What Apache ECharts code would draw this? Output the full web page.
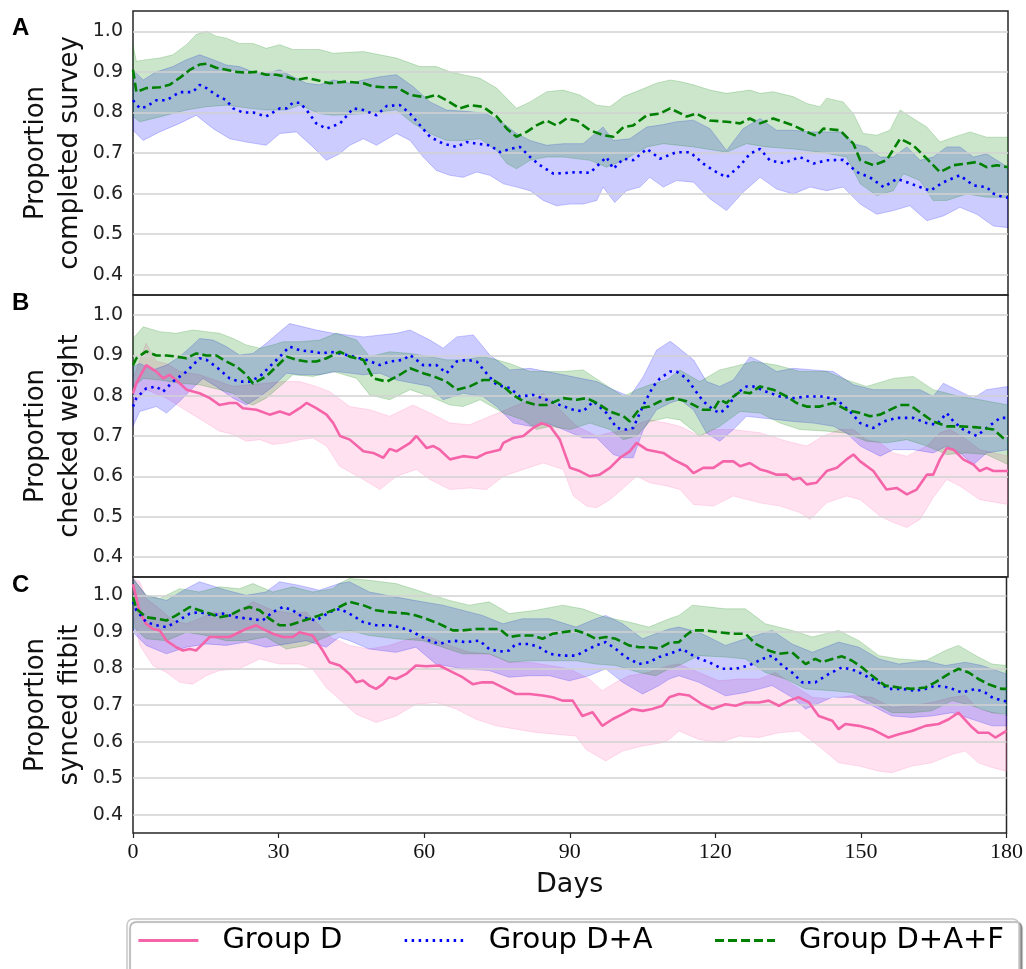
<!DOCTYPE html>
<html>
<head>
<meta charset="utf-8">
<script src="https://cdn.jsdelivr.net/npm/echarts@6/dist/echarts.min.js"></script>
<style>html,body{margin:0;padding:0;background:#fff}#c{width:1026px;height:969px}</style>
</head>
<body>
<div id="c"></div>
<script>
// ---------- DATA ----------
const groups = ['Group D', 'Group D+A', 'Group D+A+F'];
const panelLetters = ['A', 'B', 'C'];
const yNames = ['Proportion\ncompleted survey', 'Proportion\nchecked weight', 'Proportion\nsynced fitbit'];
const yTickValues = [0.4, 0.5, 0.6, 0.7, 0.8, 0.9, 1.0];
const xTickInterval = 30;

// Panel A
const A_DA = [[0,0.83],[1.4,0.81],[2.7,0.814],[4.8,0.83],[6.9,0.83],[9.6,0.85],[12.3,0.85],[13.7,0.868],[15.1,0.86],[17.1,0.843],[19.2,0.83],[20.6,0.81],[22.6,0.80],[24.7,0.80],[27.4,0.79],[30.2,0.81],[31.6,0.81],[32.9,0.824],[34.3,0.824],[35.7,0.806],[37.7,0.773],[39.8,0.76],[42.6,0.773],[45.3,0.81],[47.4,0.806],[50.1,0.793],[52.2,0.816],[54.9,0.818],[57,0.797],[59,0.769],[61.1,0.74],[63.8,0.723],[66.6,0.715],[68.6,0.727],[70.7,0.723],[73.4,0.719],[75.5,0.702],[77.5,0.71],[79.6,0.715],[81.7,0.69],[83.7,0.67],[86.5,0.649],[89.2,0.651],[91.3,0.653],[94,0.651],[96,0.674],[97.4,0.69],[98.8,0.661],[100.9,0.686],[102.9,0.682],[105.7,0.71],[108.4,0.686],[111.8,0.702],[114.6,0.702],[117.3,0.674],[119.4,0.657],[122.1,0.64],[124.9,0.669],[126.9,0.698],[129,0.71],[131,0.682],[133.8,0.675],[137.2,0.69],[140,0.674],[142.7,0.682],[146.1,0.683],[148.9,0.653],[151.6,0.64],[154.4,0.616],[157.1,0.636],[159.2,0.628],[161.9,0.616],[164,0.607],[166.7,0.628],[170.1,0.645],[172.9,0.62],[175.6,0.616],[177,0.6],[179,0.591],[180,0.59]];
const A_DA_hi = [[0,0.905],[2.1,0.88],[4.8,0.90],[8.2,0.913],[11,0.93],[13.7,0.942],[16.5,0.93],[19.2,0.917],[21.9,0.913],[24.7,0.90],[27.4,0.897],[30.2,0.905],[32.9,0.888],[35.7,0.872],[38.4,0.868],[41.2,0.88],[44.6,0.872],[47.4,0.88],[50.8,0.888],[54.2,0.893],[57.6,0.864],[61.1,0.826],[64.5,0.806],[69.3,0.802],[72.7,0.797],[76.2,0.773],[78.9,0.748],[81.7,0.731],[85.1,0.719],[88.5,0.723],[92.6,0.723],[96.7,0.764],[98.8,0.731],[102.2,0.735],[105.7,0.764],[109.1,0.77],[111.8,0.777],[115.3,0.781],[118.7,0.76],[122.1,0.706],[125.5,0.76],[129,0.785],[132.4,0.756],[135.8,0.756],[139.3,0.752],[142.7,0.752],[146.1,0.752],[148.2,0.723],[150.9,0.715],[153.7,0.69],[156.4,0.69],[159.2,0.715],[161.9,0.682],[164.6,0.69],[167.4,0.715],[170.1,0.715],[172.9,0.69],[175.6,0.698],[180,0.665]];
const A_DA_lo = [[0,0.756],[2.1,0.731],[5.5,0.752],[9.6,0.773],[13,0.793],[16.5,0.76],[19.9,0.735],[23.3,0.727],[27.4,0.719],[30.2,0.748],[33.6,0.752],[37,0.715],[39.8,0.682],[42.5,0.698],[44.6,0.719],[47.4,0.735],[50.1,0.719],[54.2,0.748],[57,0.731],[59.7,0.69],[62.4,0.657],[65.2,0.645],[67.9,0.64],[70.7,0.653],[73.4,0.645],[76.2,0.624],[78.9,0.616],[81.7,0.607],[84.4,0.583],[87.1,0.57],[89.9,0.574],[92.6,0.574],[95.4,0.583],[96.7,0.616],[99.1,0.578],[101.5,0.607],[104.3,0.616],[106.3,0.64],[109.1,0.616],[111.8,0.632],[115.3,0.628],[118.7,0.587],[122.1,0.558],[125.5,0.603],[129,0.64],[132.4,0.611],[135.8,0.599],[139.3,0.616],[142.7,0.607],[146.1,0.616],[149.6,0.574],[153,0.549],[156.4,0.558],[159.8,0.57],[163.3,0.533],[166.7,0.545],[170.1,0.566],[173.6,0.549],[177,0.52],[180,0.516]];
const A_DAF = [[0,0.905],[0.7,0.85],[2.7,0.86],[5.5,0.862],[7.5,0.868],[9.6,0.885],[11.7,0.905],[13.7,0.918],[15.1,0.92],[17.1,0.91],[19.2,0.905],[21.3,0.90],[23.3,0.898],[25.4,0.90],[27.4,0.893],[29.5,0.893],[31.6,0.888],[33.6,0.88],[35.7,0.885],[37.7,0.88],[40.5,0.872],[43.9,0.876],[47.4,0.872],[49.4,0.864],[51.5,0.862],[54.2,0.862],[57,0.843],[60.4,0.837],[62.4,0.843],[64.5,0.83],[67.2,0.81],[69.3,0.818],[72,0.814],[74.8,0.79],[76.9,0.76],[78.9,0.74],[81,0.752],[83,0.768],[85.1,0.78],[87.1,0.768],[89.2,0.785],[91.3,0.78],[94,0.756],[96.7,0.744],[98.8,0.74],[100.9,0.764],[102.9,0.768],[105.7,0.793],[108.4,0.797],[110.5,0.81],[113.9,0.79],[115.9,0.797],[118.7,0.78],[122.1,0.777],[124.9,0.773],[126.9,0.785],[129,0.773],[131.7,0.785],[135.8,0.768],[138.6,0.752],[140.6,0.742],[142,0.76],[145.4,0.756],[148.2,0.723],[149.6,0.682],[152.3,0.67],[155,0.682],[157.8,0.735],[160.5,0.719],[163.3,0.686],[166,0.653],[168.8,0.67],[171.5,0.674],[173.6,0.678],[175.6,0.665],[177.7,0.67],[180,0.665]];
const A_DAF_hi = [[0,0.967],[0.7,0.926],[2.7,0.93],[5.5,0.934],[8.2,0.942],[11,0.967],[13,0.992],[15.1,1.0],[17.1,0.988],[19.2,0.983],[21.9,0.97],[24.7,0.97],[27.4,0.958],[30.2,0.967],[32.9,0.955],[35.7,0.955],[38.4,0.955],[41.2,0.946],[47.4,0.95],[54.2,0.934],[59,0.913],[62.4,0.913],[65.2,0.90],[67.9,0.893],[71.4,0.884],[74.8,0.86],[78.9,0.81],[81.7,0.826],[85.1,0.851],[88.5,0.855],[91.9,0.843],[95.4,0.818],[98.1,0.814],[100.9,0.839],[104.3,0.855],[107.7,0.872],[110.5,0.88],[112.5,0.876],[115.3,0.868],[118.7,0.855],[122.1,0.847],[126.9,0.855],[129,0.847],[131.7,0.851],[135.8,0.839],[138.6,0.822],[141.3,0.814],[142.7,0.835],[146.1,0.826],[148.2,0.797],[150.2,0.748],[153,0.744],[155.7,0.756],[157.8,0.806],[160.5,0.785],[163.3,0.764],[166,0.727],[168.8,0.739],[172.2,0.752],[175.6,0.739],[180,0.739]];
const A_DAF_lo = [[0,0.79],[1.4,0.777],[5.5,0.789],[11,0.806],[15.1,0.814],[19.2,0.818],[24,0.81],[27.4,0.806],[31.6,0.806],[34.3,0.818],[38.4,0.797],[41.2,0.793],[47.4,0.797],[54.2,0.806],[57.6,0.773],[61.1,0.748],[64.5,0.731],[67.9,0.731],[71.4,0.735],[74.8,0.706],[76.9,0.674],[78.9,0.661],[81.7,0.682],[85.1,0.69],[88.5,0.69],[94,0.682],[97.4,0.665],[100.9,0.682],[105.7,0.715],[109.1,0.723],[115.3,0.715],[122.1,0.702],[126.2,0.723],[130.3,0.715],[135.8,0.71],[141.3,0.702],[146.8,0.69],[149.6,0.624],[153,0.595],[156.4,0.607],[158.5,0.649],[161.9,0.632],[164.6,0.583],[167.4,0.583],[171.5,0.599],[175.6,0.591],[180,0.591]];

// Panel B
const B_D = [[0,0.806],[0.7,0.831],[2.7,0.876],[4.8,0.86],[6.2,0.843],[7.5,0.852],[9.6,0.831],[11,0.815],[13.7,0.806],[15.8,0.794],[17.8,0.777],[19.9,0.782],[21.3,0.782],[22.6,0.769],[25.4,0.765],[28.1,0.753],[30.2,0.761],[32.2,0.753],[34.3,0.769],[35.7,0.782],[37.7,0.769],[39.8,0.753],[41.2,0.732],[42.6,0.70],[44.6,0.691],[47.4,0.662],[49.4,0.658],[51.5,0.646],[52.8,0.668],[54.2,0.662],[57,0.683],[58.3,0.70],[60.4,0.67],[61.8,0.675],[63.1,0.666],[65.2,0.642],[67.9,0.65],[70.7,0.646],[72.7,0.658],[75.5,0.666],[76.2,0.683],[78.2,0.695],[80.3,0.70],[82.3,0.72],[84.1,0.732],[85.8,0.724],[87.8,0.691],[89.9,0.621],[91.9,0.613],[94,0.60],[96,0.604],[98.1,0.621],[100.2,0.646],[102.2,0.662],[103.6,0.683],[105.7,0.666],[109.1,0.658],[111.1,0.642],[113.9,0.625],[115.3,0.608],[117.3,0.621],[119.4,0.621],[121.4,0.637],[123.5,0.637],[124.9,0.625],[126.9,0.633],[129,0.617],[130.3,0.613],[132.4,0.604],[134.5,0.604],[135.8,0.592],[137.2,0.596],[138.6,0.58],[140.6,0.584],[142.7,0.613],[144.8,0.621],[146.8,0.642],[148.2,0.654],[149.6,0.637],[152.3,0.613],[155,0.567],[157.1,0.571],[159.2,0.555],[161.2,0.567],[163.3,0.604],[164.6,0.604],[166,0.642],[167.4,0.67],[168.8,0.666],[170.8,0.642],[172.9,0.629],[174.2,0.613],[175.6,0.621],[177,0.613],[180,0.613]];
const B_D_hi = [[0,0.84],[1.4,0.889],[2.7,0.93],[4.8,0.885],[6.9,0.88],[9.6,0.86],[13.7,0.852],[20.6,0.823],[27.4,0.831],[30.9,0.835],[34.3,0.835],[37.7,0.823],[40.5,0.81],[44.6,0.773],[48.7,0.765],[52.8,0.749],[57.6,0.777],[61.1,0.757],[65.2,0.732],[69.3,0.728],[73.4,0.749],[77.5,0.769],[81.7,0.79],[84.4,0.806],[88.5,0.757],[91.3,0.724],[95.4,0.70],[98.1,0.708],[102.2,0.716],[104.3,0.732],[106.3,0.74],[109.8,0.732],[112.5,0.724],[116.6,0.70],[119.4,0.716],[123.5,0.716],[129,0.708],[134.5,0.687],[138.6,0.675],[142,0.70],[145.4,0.716],[148.2,0.716],[150.9,0.691],[153.7,0.683],[156.4,0.658],[159.2,0.65],[163.3,0.675],[166,0.708],[168.1,0.716],[171.5,0.691],[174.2,0.666],[180,0.65]];
const B_D_lo = [[0,0.78],[2.7,0.815],[6.9,0.794],[9.6,0.773],[12.3,0.753],[15.1,0.732],[17.8,0.712],[20.6,0.704],[23.3,0.687],[26.1,0.691],[28.8,0.679],[31.6,0.683],[34.3,0.691],[37,0.695],[39.8,0.675],[42.5,0.625],[47.4,0.592],[50.8,0.567],[54.2,0.60],[58.3,0.617],[61.1,0.592],[65.2,0.567],[69.3,0.571],[72.7,0.567],[76.2,0.60],[80.3,0.617],[84.4,0.633],[88.5,0.617],[90.6,0.551],[93.3,0.526],[95.4,0.522],[98.1,0.542],[100.9,0.571],[103.6,0.60],[106.3,0.584],[109.8,0.576],[112.5,0.567],[115.3,0.53],[119.4,0.526],[123.5,0.551],[129,0.534],[133.1,0.526],[137.2,0.51],[139.3,0.493],[142.7,0.534],[146.8,0.551],[149.6,0.542],[153.7,0.501],[156.4,0.485],[159.2,0.473],[161.9,0.493],[164.6,0.547],[167.4,0.592],[170.1,0.576],[174.2,0.542],[180,0.53]];
const B_DA = [[0,0.773],[0.7,0.794],[2.7,0.818],[4.8,0.823],[6.2,0.81],[8.2,0.835],[11,0.86],[13.7,0.893],[15.1,0.889],[17.1,0.872],[19.9,0.843],[21.9,0.835],[24,0.835],[26.1,0.848],[28.1,0.872],[30.2,0.897],[32.2,0.922],[34.3,0.913],[37,0.909],[39.1,0.905],[40.5,0.909],[42.6,0.905],[45.3,0.897],[48,0.889],[50.8,0.876],[52.8,0.885],[55.6,0.889],[57,0.901],[59.7,0.876],[62.4,0.876],[64.5,0.856],[66.6,0.885],[68.6,0.889],[70.7,0.885],[72.7,0.856],[74.8,0.827],[77.5,0.819],[79.6,0.798],[82.3,0.802],[85.1,0.79],[87.8,0.777],[90.6,0.765],[92.6,0.761],[94.7,0.786],[97.4,0.757],[99.5,0.72],[101.5,0.716],[102.9,0.72],[105,0.777],[107,0.823],[108.4,0.843],[110.5,0.86],[111.8,0.86],[113.9,0.843],[115.3,0.819],[117.3,0.786],[119.4,0.765],[120.7,0.757],[122.1,0.769],[124.2,0.806],[126.2,0.823],[127.6,0.823],[130.3,0.81],[133.1,0.798],[135.8,0.794],[138.6,0.798],[142,0.798],[144.8,0.79],[147.5,0.761],[149.6,0.732],[152.3,0.72],[154.4,0.736],[157.1,0.745],[160.5,0.745],[163.3,0.732],[165.3,0.728],[167.4,0.757],[168.8,0.736],[170.8,0.716],[173.6,0.70],[175.6,0.72],[178.4,0.745],[180,0.745]];
const B_DA_hi = [[0,0.872],[1.4,0.88],[4.1,0.864],[6.9,0.876],[9.6,0.897],[12.3,0.926],[13.7,0.942],[16.5,0.938],[19.2,0.922],[21.9,0.901],[24.7,0.905],[27.4,0.93],[30.2,0.959],[32.2,0.979],[35,0.971],[37.7,0.963],[41.2,0.955],[47.4,0.946],[54.2,0.955],[57,0.963],[61.1,0.938],[63.8,0.918],[66.6,0.946],[70,0.951],[73.4,0.901],[77.5,0.864],[81.7,0.868],[88.5,0.852],[95.4,0.835],[98.8,0.815],[102.2,0.798],[105,0.848],[107.7,0.913],[110.5,0.935],[111.1,0.93],[115.3,0.889],[118,0.835],[120.7,0.823],[123.5,0.839],[126.9,0.897],[129,0.885],[132.4,0.86],[135.8,0.868],[140,0.864],[144.1,0.86],[148.2,0.827],[152.3,0.815],[156.4,0.815],[161.9,0.815],[164.6,0.798],[166.7,0.831],[169.4,0.815],[172.9,0.794],[175.6,0.815],[180,0.823]];
const B_DA_lo = [[0,0.724],[1.4,0.761],[4.8,0.773],[6.9,0.757],[9.6,0.786],[12.3,0.819],[14.4,0.843],[17.1,0.823],[20.6,0.794],[23.3,0.777],[26.1,0.798],[28.8,0.823],[31.6,0.856],[34.3,0.852],[38.4,0.852],[41.8,0.86],[47.4,0.852],[50.8,0.856],[54.2,0.839],[61.1,0.823],[63.8,0.79],[67.9,0.806],[72,0.798],[74.8,0.773],[78.2,0.732],[81.7,0.724],[85.1,0.732],[88.5,0.716],[92.6,0.695],[95.4,0.695],[98.8,0.654],[100.9,0.646],[102.9,0.646],[105,0.716],[107.7,0.765],[110.5,0.782],[112.5,0.79],[115.3,0.765],[118,0.707],[120.7,0.687],[123.5,0.716],[126.2,0.749],[129,0.745],[133.1,0.74],[135.8,0.736],[140,0.732],[144.1,0.724],[146.8,0.707],[149.6,0.675],[153.7,0.65],[156.4,0.666],[160.5,0.666],[164.6,0.658],[167.4,0.675],[170.1,0.658],[172.9,0.629],[175.6,0.658],[180,0.666]];
const B_DAF = [[0,0.876],[0.7,0.893],[2.7,0.91],[4.8,0.90],[6.9,0.90],[8.9,0.897],[11,0.893],[13,0.905],[15.1,0.90],[17.1,0.90],[19.2,0.885],[21.3,0.872],[23.3,0.852],[24.7,0.83],[27.4,0.848],[29.5,0.872],[31.6,0.897],[33.6,0.889],[35.7,0.885],[37.7,0.885],[39.8,0.893],[41.8,0.905],[42.6,0.909],[44.6,0.897],[47.4,0.889],[49.4,0.843],[52.2,0.835],[54.9,0.852],[57,0.868],[59.7,0.856],[61.8,0.848],[64.5,0.835],[66.6,0.815],[69.3,0.823],[72,0.839],[74.1,0.839],[76.2,0.823],[78.2,0.802],[80.3,0.786],[83,0.777],[85.1,0.777],[88.5,0.794],[91.3,0.79],[93.3,0.794],[95.4,0.782],[98.1,0.761],[100.9,0.749],[102.2,0.736],[104.3,0.769],[106.3,0.773],[108.4,0.786],[111.1,0.794],[113.9,0.786],[116,0.773],[117.3,0.765],[119.4,0.765],[120.7,0.79],[122.1,0.782],[123.5,0.798],[124.9,0.81],[126.9,0.806],[129,0.823],[131.7,0.815],[134.5,0.798],[136.5,0.782],[138.6,0.773],[141.3,0.773],[144.1,0.782],[146.8,0.765],[149.6,0.757],[151.6,0.749],[153.7,0.753],[155.7,0.765],[157.8,0.777],[159.8,0.777],[162.6,0.753],[164.6,0.736],[167.4,0.724],[170.1,0.724],[172.9,0.722],[174.9,0.72],[177,0.716],[179,0.695],[180,0.69]];
const B_DAF_hi = [[0,0.942],[2.1,0.971],[5.5,0.959],[8.9,0.955],[12.3,0.963],[15.1,0.959],[17.8,0.955],[20.6,0.942],[23.3,0.926],[26.1,0.918],[28.8,0.926],[30.9,0.934],[34.3,0.934],[38.4,0.938],[41.8,0.955],[46,0.938],[48.7,0.897],[52.8,0.909],[57,0.905],[61.1,0.897],[64.5,0.889],[67.9,0.889],[72,0.897],[74.8,0.889],[77.5,0.88],[81.7,0.86],[88.5,0.86],[92.6,0.864],[96.7,0.831],[100.9,0.798],[103.6,0.815],[106.3,0.827],[109.8,0.839],[112.5,0.864],[116.6,0.835],[120.7,0.864],[123.5,0.872],[127.6,0.885],[132.4,0.876],[137.2,0.86],[142.7,0.86],[146.8,0.839],[150.9,0.823],[156.4,0.843],[160.5,0.848],[164.6,0.815],[170.1,0.798],[174.2,0.79],[180,0.777]];
const B_DAF_lo = [[0,0.82],[2.1,0.843],[5.5,0.839],[9.6,0.831],[13.7,0.827],[17.8,0.815],[20.6,0.806],[23.3,0.782],[24.7,0.777],[27.4,0.794],[30.2,0.823],[32.9,0.852],[37,0.848],[41.2,0.86],[46,0.843],[48.7,0.802],[52.8,0.79],[57,0.815],[61.1,0.798],[65.2,0.777],[67.9,0.773],[71.4,0.79],[76.2,0.757],[80.3,0.74],[83,0.716],[85.8,0.724],[89.9,0.716],[94,0.732],[98.1,0.716],[100.9,0.691],[103.6,0.70],[106.3,0.736],[109.8,0.745],[112.5,0.74],[116.6,0.70],[120.7,0.724],[124.9,0.761],[129,0.757],[133.1,0.732],[137.2,0.716],[142.7,0.712],[146.8,0.707],[150.9,0.687],[155,0.683],[159.2,0.691],[163.3,0.675],[167.4,0.654],[171.5,0.658],[175.6,0.654],[180,0.629]];

// Panel C
const C_D = [[0,1.03],[1.4,0.954],[2.7,0.922],[4.1,0.908],[5.5,0.904],[6.9,0.876],[8.9,0.858],[10.3,0.849],[11.7,0.853],[13,0.849],[14.4,0.867],[15.8,0.886],[17.8,0.886],[19.9,0.886],[21.9,0.899],[23.3,0.908],[25.4,0.918],[26.7,0.908],[28.8,0.895],[30.9,0.886],[32.9,0.886],[34.3,0.899],[37,0.89],[39.1,0.849],[40.5,0.817],[42.6,0.808],[44.6,0.785],[46,0.762],[47.4,0.767],[48.7,0.753],[50.1,0.744],[51.5,0.757],[52.8,0.776],[54.2,0.771],[56.3,0.785],[58.3,0.808],[60.4,0.806],[63.1,0.808],[65.2,0.794],[67.9,0.776],[70,0.757],[72,0.762],[74.1,0.762],[76.2,0.748],[78.9,0.73],[81.7,0.73],[84.4,0.726],[86.5,0.721],[88.5,0.712],[90.6,0.712],[92.6,0.67],[94.7,0.68],[96.7,0.643],[98.8,0.661],[100.9,0.675],[102.9,0.689],[105,0.684],[107,0.689],[109.1,0.698],[110.5,0.721],[112.5,0.73],[114.6,0.726],[117.3,0.702],[119.4,0.689],[122.1,0.702],[124.2,0.698],[126.2,0.707],[129,0.707],[131,0.712],[133.1,0.698],[135.2,0.712],[137.2,0.721],[139.3,0.707],[141.3,0.67],[144.1,0.657],[145.4,0.634],[146.8,0.648],[149.6,0.643],[152.3,0.634],[155.7,0.611],[157.8,0.62],[160.5,0.629],[163.3,0.643],[166,0.648],[168.1,0.661],[170.1,0.679],[172.9,0.639],[174.2,0.624],[176.3,0.624],[177.7,0.611],[180,0.629]];
const C_D_hi = [[0,1.046],[1.4,1.037],[2.7,0.991],[5.5,0.963],[8.2,0.931],[11,0.922],[13.7,0.936],[16.5,0.954],[20.6,0.945],[24.7,0.982],[28.8,0.959],[32.9,0.95],[35.7,0.954],[38.4,0.918],[41.2,0.881],[42.5,0.876],[44.6,0.863],[48.7,0.853],[52.8,0.863],[57,0.881],[61.1,0.886],[65.2,0.863],[69.3,0.844],[73.4,0.84],[77.5,0.817],[81.7,0.817],[85.8,0.808],[89.9,0.799],[94,0.771],[96.7,0.739],[99.5,0.762],[102.2,0.78],[106.3,0.789],[110.5,0.808],[112.5,0.812],[116.6,0.789],[120.7,0.766],[124.9,0.771],[129,0.771],[132.4,0.789],[135.8,0.757],[140,0.721],[144.1,0.716],[148.2,0.726],[152.3,0.721],[156.4,0.693],[160.5,0.698],[164.6,0.707],[168.8,0.721],[171.5,0.726],[174.2,0.689],[180,0.67]];
const C_D_lo = [[0,0.945],[1.4,0.863],[4.1,0.808],[6.9,0.789],[9.6,0.762],[12.3,0.757],[15.1,0.78],[17.8,0.794],[21.9,0.799],[26.1,0.826],[30.2,0.812],[34.3,0.812],[37,0.799],[39.8,0.748],[42.5,0.716],[46,0.675],[50.1,0.652],[54.2,0.67],[58.3,0.702],[62.4,0.707],[66.6,0.689],[70.7,0.661],[74.8,0.643],[78.9,0.634],[83,0.625],[87.1,0.62],[91.3,0.615],[93.3,0.579],[97.4,0.547],[100.9,0.574],[105,0.588],[109.1,0.597],[110.5,0.606],[112.5,0.629],[116.6,0.606],[120.7,0.597],[124.9,0.615],[129,0.611],[133.1,0.624],[137.2,0.629],[141.3,0.588],[145.4,0.542],[149.6,0.533],[153.7,0.519],[156.4,0.515],[160.5,0.533],[164.6,0.542],[168.8,0.565],[171.5,0.574],[174.2,0.542],[177,0.529],[180,0.519]];
const C_DA = [[0,0.982],[0.7,0.959],[2.7,0.927],[4.8,0.918],[6.9,0.913],[8.9,0.927],[11.7,0.95],[13.7,0.954],[16.5,0.945],[18.5,0.95],[21.3,0.94],[24,0.936],[26.7,0.931],[28.8,0.954],[30.9,0.968],[32.9,0.959],[35,0.94],[37.7,0.931],[40.5,0.954],[42.6,0.963],[44.6,0.95],[47.4,0.927],[50.1,0.918],[52.8,0.918],[54.9,0.913],[57,0.904],[59,0.89],[61.1,0.876],[63.1,0.867],[65.9,0.876],[68.6,0.872],[71.4,0.876],[73.4,0.853],[75.5,0.846],[77.5,0.849],[78.9,0.867],[81.7,0.867],[83.7,0.858],[85.8,0.84],[88.5,0.835],[91.3,0.835],[93.3,0.849],[95.4,0.863],[97.4,0.872],[99.5,0.853],[101.5,0.831],[104.3,0.812],[106.3,0.817],[108.4,0.831],[110.5,0.84],[113.2,0.853],[115.9,0.831],[118.7,0.817],[121.4,0.799],[124.2,0.799],[126.9,0.808],[129.7,0.826],[131.7,0.835],[133.8,0.808],[135.8,0.789],[137.9,0.762],[140.6,0.762],[143.4,0.785],[146.1,0.803],[148.9,0.794],[150.9,0.78],[153,0.766],[155.7,0.744],[158.5,0.744],[161.2,0.739],[163.3,0.744],[165.3,0.753],[168.1,0.748],[170.8,0.734],[173.6,0.744],[175.6,0.734],[177,0.721],[179,0.712],[180,0.71]];
const C_DA_hi = [[0,1.046],[2.7,1.0],[6.9,0.986],[11,1.018],[13.7,1.037],[19.2,1.014],[23.3,1.0],[27.4,1.009],[30.2,1.037],[34.3,1.027],[38.4,1.014],[42.5,1.032],[44.6,1.037],[48.7,1.009],[54.2,0.995],[59.7,0.982],[63.8,0.973],[67.9,0.959],[72,0.945],[76.2,0.922],[80.3,0.936],[85.8,0.936],[91.3,0.913],[95.4,0.936],[97.4,0.945],[100.9,0.922],[105,0.881],[107.7,0.895],[110.5,0.908],[112.5,0.913],[116.6,0.899],[122.1,0.863],[126.2,0.881],[131.7,0.904],[135.8,0.867],[140,0.844],[145.4,0.872],[149.6,0.858],[153.7,0.826],[157.8,0.812],[163.3,0.821],[167.4,0.808],[171.5,0.817],[174.9,0.808],[180,0.785]];
const C_DA_lo = [[0,0.899],[2.7,0.863],[6.9,0.84],[11,0.858],[15.1,0.867],[19.2,0.863],[23.3,0.872],[27.4,0.858],[31.6,0.867],[35.7,0.876],[39.8,0.858],[42.5,0.885],[44.6,0.876],[48.7,0.853],[54.2,0.844],[58.3,0.858],[62.4,0.812],[67.9,0.799],[73.4,0.794],[77.5,0.776],[81.7,0.78],[85.8,0.78],[89.9,0.766],[94,0.78],[97.4,0.799],[100.9,0.762],[105,0.73],[108.4,0.753],[110.5,0.771],[112.5,0.78],[116.6,0.762],[122.1,0.725],[126.2,0.734],[131.7,0.753],[135.8,0.721],[138.6,0.689],[144.1,0.721],[148.2,0.721],[152.3,0.698],[156.4,0.67],[160.5,0.666],[164.6,0.67],[168.8,0.679],[172.9,0.661],[177,0.643],[180,0.643]];
const C_DAF = [[0,0.995],[0.7,0.963],[2.7,0.94],[4.8,0.936],[6.9,0.931],[8.9,0.945],[11.7,0.968],[13.7,0.959],[15.8,0.95],[17.8,0.94],[19.9,0.945],[21.9,0.959],[24,0.968],[26.1,0.959],[28.1,0.936],[30.2,0.918],[32.2,0.918],[34.3,0.927],[36.4,0.936],[38.4,0.945],[41.2,0.959],[42.5,0.968],[44.6,0.982],[47.4,0.973],[50.1,0.959],[52.8,0.954],[56.3,0.95],[58.3,0.945],[60.4,0.936],[63.1,0.922],[65.9,0.904],[67.9,0.904],[70.7,0.908],[73.4,0.908],[75.5,0.908],[77.5,0.886],[79.6,0.89],[82.3,0.89],[84.4,0.881],[86.5,0.895],[88.5,0.899],[91.3,0.904],[93.3,0.895],[95.4,0.881],[97.4,0.886],[99.5,0.881],[102.2,0.863],[104.3,0.858],[106.3,0.858],[108.4,0.855],[110.5,0.87],[112.5,0.872],[113.9,0.89],[115.3,0.904],[118,0.904],[120.7,0.899],[123.5,0.895],[126.2,0.895],[128.3,0.867],[131,0.849],[133.1,0.84],[135.8,0.844],[138.6,0.812],[140.6,0.826],[142,0.817],[144.1,0.826],[146.1,0.833],[148.2,0.821],[150.2,0.803],[152.3,0.78],[155,0.753],[157.8,0.748],[160.5,0.744],[163.3,0.748],[165.3,0.762],[168.1,0.785],[170.1,0.799],[172.2,0.789],[174.2,0.771],[176.3,0.757],[179,0.744],[180,0.744]];
const C_DAF_hi = [[0,1.046],[2.7,1.0],[5.5,0.991],[9.6,1.018],[13.7,1.009],[17.8,1.023],[21.9,1.018],[24.7,1.032],[28.8,1.009],[32.9,1.023],[37,1.009],[41.2,1.018],[42.5,1.032],[44.6,1.046],[48.7,1.041],[54.2,1.032],[59.7,1.009],[65.2,0.986],[69.3,0.973],[73.4,0.982],[77.5,0.95],[83,0.959],[88.5,0.973],[92.6,0.963],[97.4,0.94],[102.2,0.927],[106.3,0.913],[110.5,0.936],[112.5,0.945],[115.3,0.973],[122.1,0.963],[126.2,0.963],[130.3,0.922],[135.8,0.904],[140,0.886],[145.4,0.904],[149.6,0.876],[153.7,0.835],[157.8,0.826],[163.3,0.821],[167.4,0.849],[170.1,0.863],[174.2,0.831],[177,0.812],[180,0.808]];
const C_DAF_lo = [[0,0.913],[2.7,0.881],[6.9,0.876],[11,0.899],[15.1,0.89],[19.2,0.876],[23.3,0.876],[27.4,0.886],[31.6,0.853],[35.7,0.863],[39.8,0.886],[42.5,0.899],[44.6,0.904],[48.7,0.89],[54.2,0.881],[59.7,0.876],[63.8,0.858],[67.9,0.84],[73.4,0.84],[77.5,0.817],[81.7,0.821],[87.1,0.821],[91.3,0.821],[95.4,0.812],[99.5,0.808],[104.3,0.789],[107.7,0.78],[110.5,0.799],[112.5,0.808],[116.6,0.835],[122.1,0.831],[126.2,0.826],[130.3,0.789],[134.5,0.771],[138.6,0.744],[144.1,0.739],[148.2,0.734],[152.3,0.707],[156.4,0.679],[160.5,0.679],[164.6,0.684],[168.8,0.712],[172.9,0.698],[177,0.679],[180,0.675]];

// ---------- STYLE ----------
const lineColors = ['#f564a9', '#0000ff', '#008000'];
const bandColors = ['rgba(255,105,180,0.2)', 'rgba(0,0,255,0.2)', 'rgba(0,128,0,0.2)'];
const lineTypes = ['solid', [2.5, 4.5], [9, 4]];

const panels = [
  { grid: { top: 11, height: 284 }, series: [null, {m: A_DA, hi: A_DA_hi, lo: A_DA_lo}, {m: A_DAF, hi: A_DAF_hi, lo: A_DAF_lo}] },
  { grid: { top: 295, height: 282 }, series: [{m: B_D, hi: B_D_hi, lo: B_D_lo}, {m: B_DA, hi: B_DA_hi, lo: B_DA_lo}, {m: B_DAF, hi: B_DAF_hi, lo: B_DAF_lo}] },
  { grid: { top: 577, height: 256 }, series: [{m: C_D, hi: C_D_hi, lo: C_D_lo}, {m: C_DA, hi: C_DA_hi, lo: C_DA_lo}, {m: C_DAF, hi: C_DAF_hi, lo: C_DAF_lo}] }
];

const grids = [], xAxes = [], yAxes = [], series = [], graphics = [];
const letterTops = [16, 291, 573];

panels.forEach((p, i) => {
  grids.push({ left: 133, width: 875, top: p.grid.top, height: p.grid.height, show: true,
    borderColor: '#262626', borderWidth: 1.5, backgroundColor: 'transparent', containLabel: false });
  const last = i === panels.length - 1;
  xAxes.push({ type: 'value', gridIndex: i, min: 0, max: 180, interval: xTickInterval,
    axisLine: { show: false }, splitLine: { show: false },
    axisTick: { show: last, length: 5, lineStyle: { color: '#262626', width: 1.2 } },
    axisLabel: { show: last, fontFamily: 'Liberation Serif', fontSize: 22, color: '#111', margin: 8 },
    name: last ? 'Days' : '', nameLocation: 'middle', nameGap: 38,
    nameTextStyle: { fontFamily: 'DejaVu Sans', fontSize: 27, color: '#111' } });
  yAxes.push({ type: 'value', gridIndex: i, min: 0.35, max: 1.05,
    axisLine: { show: false }, splitLine: { show: false },
    axisTick: { show: false, customValues: yTickValues },
    axisLabel: { customValues: yTickValues, formatter: v => v.toFixed(1), fontFamily: 'DejaVu Sans', fontSize: 19, color: '#222', margin: 10 },
    name: yNames[i], nameLocation: 'middle', nameRotate: 90, nameGap: 46, nameMoveOverlap: false,
    nameTextStyle: { fontFamily: 'DejaVu Sans', fontSize: 26, color: '#111', lineHeight: 34 } });
  // gridlines
  series.push({ type: 'line', xAxisIndex: i, yAxisIndex: i, data: [], z: 1, silent: true,
    markLine: { silent: true, symbol: 'none', animation: false, label: { show: false },
      lineStyle: { color: '#d2d2d2', width: 1.5, type: 'solid' },
      data: yTickValues.map(v => ({ yAxis: v })) } });
  // bands
  p.series.forEach((s, g) => {
    if (!s) return;
    const hi = s.hi, lo = s.lo;
    series.push({ type: 'custom', xAxisIndex: i, yAxisIndex: i, z: 2, silent: true, clip: true,
      data: [[hi[0][0], hi[0][1]]],
      renderItem: (params, api) => {
        const pts = hi.map(q => api.coord(q)).concat(lo.slice().reverse().map(q => api.coord(q)));
        return { type: 'polygon', shape: { points: pts },
          style: { fill: bandColors[g], stroke: bandColors[g], lineWidth: 1 } };
      } });
  });
  // lines
  p.series.forEach((s, g) => {
    if (!s) return;
    series.push({ type: 'line', name: groups[g], xAxisIndex: i, yAxisIndex: i, z: 5,
      data: s.m, showSymbol: false, symbol: 'none', clip: true,
      lineStyle: { color: lineColors[g], width: 2.6, type: lineTypes[g] },
      itemStyle: { color: lineColors[g] } });
  });
  graphics.push({ type: 'text', left: 12, top: letterTops[i],
    style: { text: panelLetters[i], font: 'bold 24px "Liberation Sans", Arial, sans-serif', fill: '#000' } });
});

const chart = echarts.init(document.getElementById('c'), null, { renderer: 'canvas' });
chart.setOption({
  animation: false,
  backgroundColor: '#fff',
  grid: grids, xAxis: xAxes, yAxis: yAxes, series: series, graphic: graphics,
  legend: { data: groups, left: 127, top: 919, orient: 'horizontal',
    itemWidth: 60, itemHeight: 14, itemGap: 61,
    itemStyle: { opacity: 0, borderWidth: 0 },
    lineStyle: { width: 2.8 },
    padding: [7, 15, 30, 10], borderColor: '#c8c8c8', borderWidth: 1.5, borderRadius: 6,
    backgroundColor: '#fff', shadowColor: 'rgba(0,0,0,0.35)', shadowOffsetX: 3, shadowOffsetY: 3, shadowBlur: 1,
    selectedMode: false,
    textStyle: { fontFamily: 'DejaVu Sans', fontSize: 29, color: '#000', padding: [0, 0, 0, 19] } }
});
</script>
</body>
</html>
